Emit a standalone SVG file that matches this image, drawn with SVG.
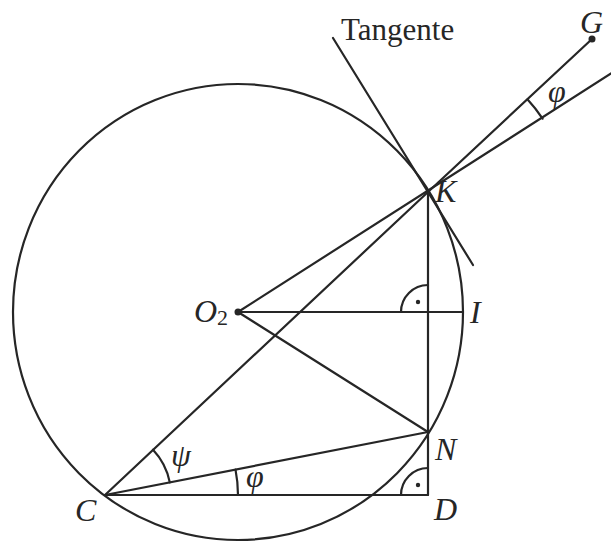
<svg xmlns="http://www.w3.org/2000/svg" width="611" height="543" viewBox="0 0 611 543">
<style>
.ln{stroke:#262626;stroke-width:2.2;fill:none;stroke-linecap:round}
.lbl{font-family:"Liberation Serif","Times New Roman",serif;font-style:italic;font-size:32px;fill:#262626}
.txt{font-family:"Liberation Serif","Times New Roman",serif;font-size:31px;fill:#262626}
.dot{fill:#262626}
</style>
<rect width="611" height="543" fill="#ffffff"/>
<g id="circle">
<ellipse class="ln" cx="238" cy="312" rx="225" ry="228"/>
</g>
<g id="connectors">
<line class="ln" x1="333" y1="38" x2="473" y2="265"/>
<line class="ln" x1="238" y1="312" x2="611" y2="73.5"/>
<polyline class="ln" points="105,495 428,192 592,39"/>
<line class="ln" x1="238" y1="312" x2="463" y2="312"/>
<line class="ln" x1="238" y1="312" x2="428" y2="432"/>
<line class="ln" x1="105" y1="495" x2="428" y2="432"/>
<line class="ln" x1="105" y1="495" x2="428" y2="495"/>
<line class="ln" x1="428" y1="192" x2="428" y2="495"/>
</g>
<g id="angles">
<path class="ln" d="M527.6,99.4 A136,136 0 0 1 542.6,118.7"/>
<path class="ln" d="M153,449.7 A66,66 0 0 1 169.8,482.4"/>
<path class="ln" d="M235.5,469.6 A133,133 0 0 1 238,495"/>
<path class="ln" d="M401,312 A27,27 0 0 1 428,285"/>
<circle class="dot" cx="418" cy="302" r="2.2"/>
<path class="ln" d="M401,495 A27,27 0 0 1 428,468"/>
<circle class="dot" cx="418" cy="485" r="2.2"/>
</g>
<g id="tangente"><text class="txt" x="341" y="40">Tangente</text></g>
<g id="G"><circle class="dot" cx="592" cy="39" r="3.5"/><text class="lbl" x="580" y="33">G</text></g>
<g id="K"><text class="lbl" x="435" y="202">K</text></g>
<g id="phiK"><text class="lbl" x="548" y="102">φ</text></g>
<g id="O2"><circle class="dot" cx="238" cy="312" r="3.5"/><text class="lbl" x="194" y="322">O<tspan font-size="22" font-style="normal" dy="3">2</tspan></text></g>
<g id="I"><text class="lbl" x="470" y="323">I</text></g>
<g id="N"><text class="lbl" x="435" y="460">N</text></g>
<g id="D"><text class="lbl" x="434" y="520">D</text></g>
<g id="C"><text class="lbl" x="75" y="521">C</text></g>
<g id="psi"><text class="lbl" x="171" y="466">ψ</text></g>
<g id="phiC"><text class="lbl" x="246" y="487">φ</text></g>
</svg>
